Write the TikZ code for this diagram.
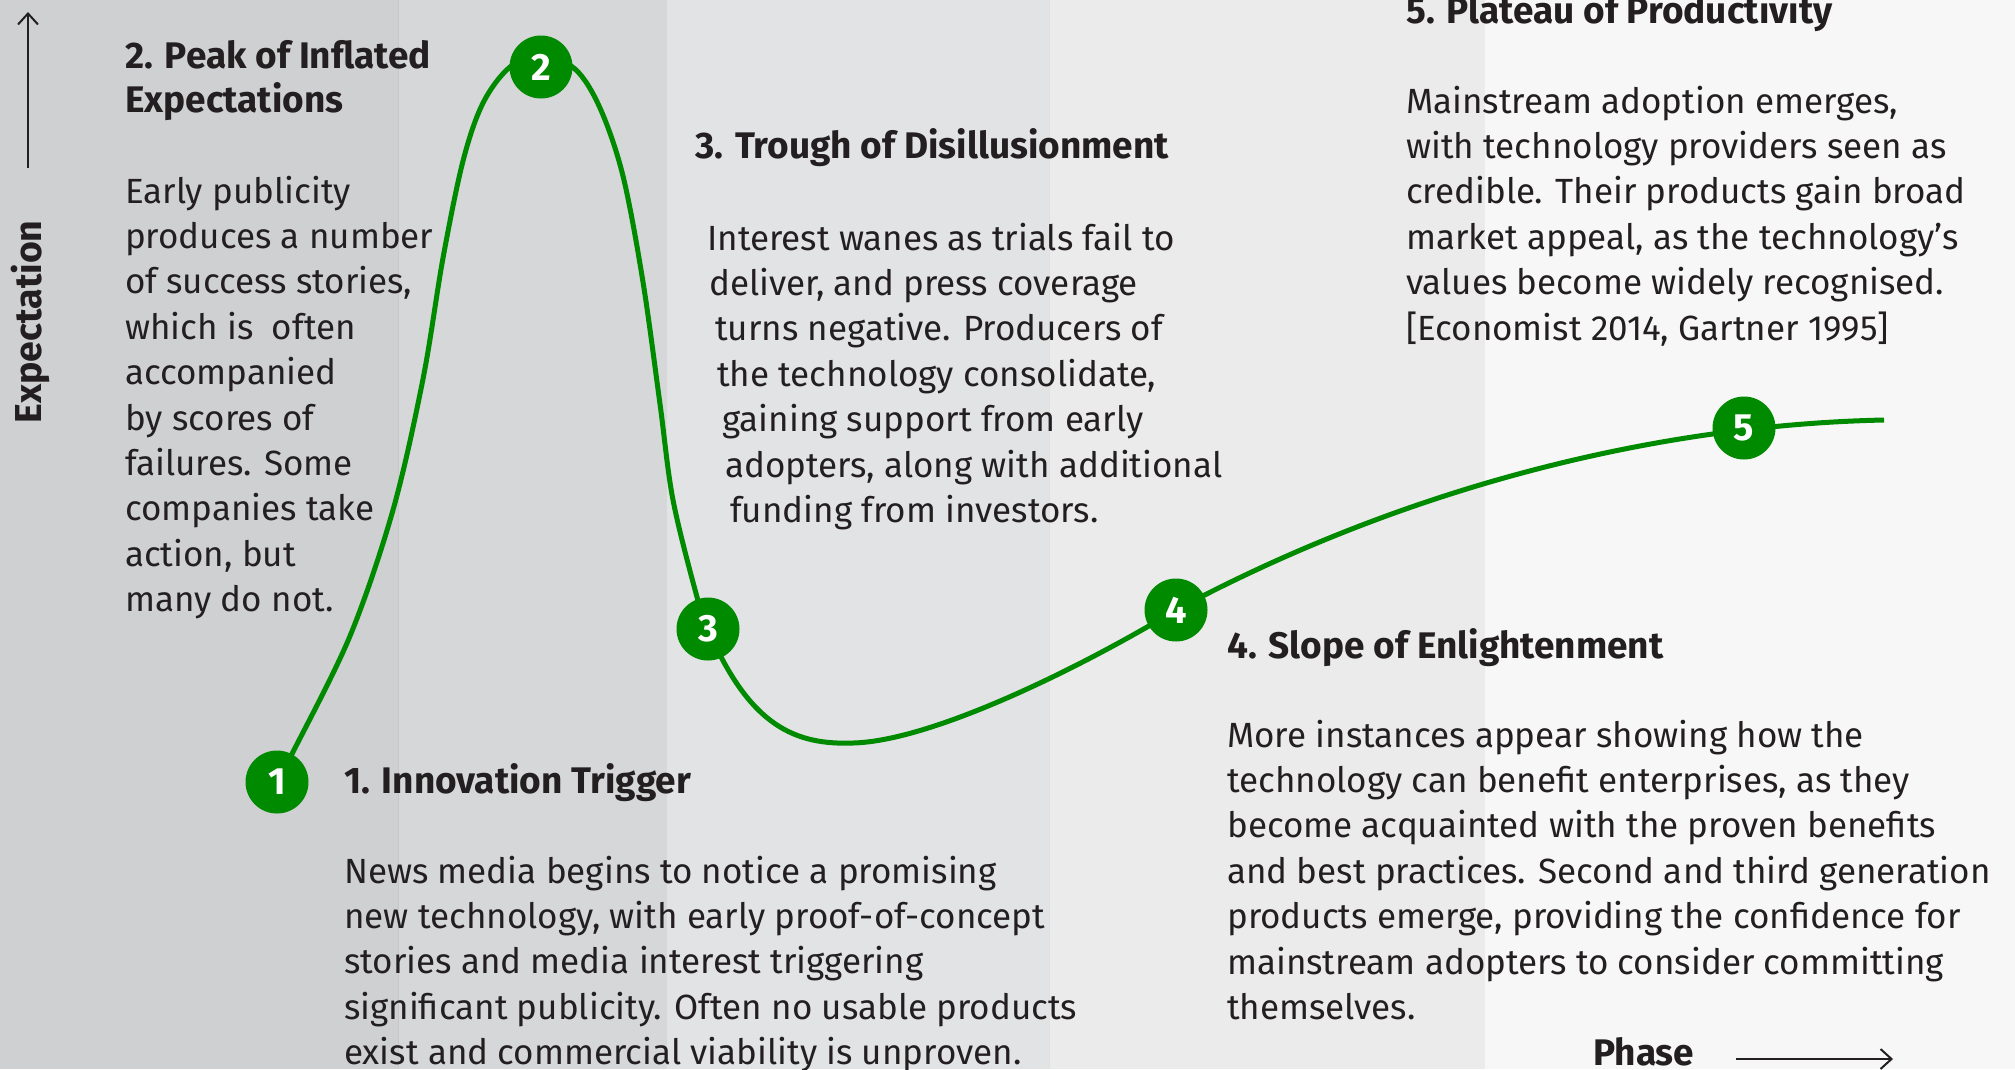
\documentclass[tikz,border=0pt]{standalone}
\usepackage{fontspec}
\setmainfont{Fira Sans}
\usetikzlibrary{arrows.meta}

\definecolor{ink}{HTML}{231F20}
\definecolor{hype}{RGB}{0,138,0}
\definecolor{bandA}{HTML}{CFD0D2}
\definecolor{bandB}{HTML}{D6D7D9}
\definecolor{bandC}{HTML}{E2E3E5}
\definecolor{bandD}{HTML}{EBEBEB}
\definecolor{bandE}{HTML}{F7F7F7}

\newcommand{\bodyfont}{\fontsize{35}{45.4}\selectfont}
\newcommand{\headfont}{\fontsize{37}{44}\selectfont\bfseries}
\newcommand{\rows}[1]{\begin{tabular}[t]{@{}l@{}}#1\end{tabular}}

\tikzset{
  txt/.style={anchor=base west, inner sep=0pt, text=ink, font=\bodyfont},
  head/.style={anchor=base west, inner sep=0pt, text=ink, font=\headfont},
  dot/.style={circle, fill=hype, minimum size=63pt, inner sep=0pt,
              text=white, font=\fontsize{38}{40}\selectfont\bfseries},
  curve/.style={draw=hype, line width=5pt},
  axis/.style={draw=ink, line width=2pt, -{Straight Barb[length=11pt, width=20pt]}}
}

\begin{document}
\begin{tikzpicture}[x=1pt, y=-1pt]
\useasboundingbox (0,0) rectangle (2015,1069);

% phase bands
\fill[bandA] (0,0) rectangle (398,1069);
\fill[bandB] (398,0) rectangle (667,1069);
\fill[bandC] (667,0) rectangle (1049,1069);
\fill[bandD] (1049,0) rectangle (1485,1069);
\fill[bandE] (1485,0) rectangle (2015,1069);
\draw[color=black!22, line width=0.8pt] (398,0) -- (398,1069);
\draw[color=black!12, line width=0.8pt] (1049,0) -- (1049,1069);

% phase points
\coordinate (c1) at (277,782);
\coordinate (c2) at (541,67);
\coordinate (c3) at (708,629);
\coordinate (c4) at (1176,610);
\coordinate (c5) at (1744,428);
\coordinate (low) at (853,743);
\coordinate (tail) at (1884,420);

% hype curve: rise, peak and fall as a smooth plot, then trough and plateau
\draw[curve] plot[smooth, tension=0.55] coordinates {
  (c1) (293,752) (350,636) (393,510) (423,379) (443,258) (463,161)
  (483,103) (510,67) (541,56) (575,69) (600,108) (623,176) (643,282)
  (660,404) (673,500) (697,597) (c3)}
  .. controls (750,728) and (797,745) .. (low)
  .. controls (932,741) and (1080,668) .. (c4)
  .. controls (1400,490) and (1650,425) .. (tail);

\node[dot] (n1) at (c1) {1};
\node[dot] (n2) at (c2) {2};
\node[dot] (n3) at (c3) {3};
\node[dot] (n4) at (c4) {4};
\node[dot] (n5) at (c5) {5};

% axes
\coordinate (ys) at (28,168);
\coordinate (ye) at (28,12);
\draw[axis] (ys) -- (ye);
\node[rotate=90, anchor=base, inner sep=0pt, text=ink,
      font=\fontsize{37.5}{40}\selectfont\bfseries] (ylab) at (41,322) {Expectation};

\node[head] (phase) at (1593,1065) {Phase};
\coordinate (xs) at (1736,1059);
\coordinate (xe) at (1893,1059);
\draw[axis] (xs) -- (xe);

% phase descriptions
\node[head] (h2) at (125,68) {\rows{2. Peak of Inflated\\Expectations}};
\node[txt] (b2) at (125,203) {\rows{Early publicity\\produces a number\\of success stories,\\which is~ often\\accompanied\\by scores of\\failures. Some\\companies take\\action, but\\many do not.}};

\node[head] (h3) at (695,158) {3. Trough of Disillusionment};
\node[txt] (b3) at (707,250) {\rows{Interest wanes as trials fail to\\
  \hspace*{2pt}deliver, and press coverage\\
  \hspace*{8pt}turns negative. Producers of\\
  \hspace*{10pt}the technology consolidate,\\
  \hspace*{15pt}gaining support from early\\
  \hspace*{18pt}adopters, along with additional\\
  \hspace*{23pt}funding from investors.}};

\node[head] (h1) at (344,793) {1. Innovation Trigger};
\node[txt] (b1) at (344,883) {\rows{News media begins to notice a promising\\new technology, with early proof-of-concept\\stories and media interest triggering\\significant publicity. Often no usable products\\exist and commercial viability is unproven.}};

\node[head] (h4) at (1227,658) {4. Slope of Enlightenment};
\node[txt] (b4) at (1227,747) {\rows{More instances appear showing how the\\technology can benefit enterprises, as they\\become acquainted with the proven benefits\\and best practices. Second and third generation\\products emerge, providing the confidence for\\mainstream adopters to consider committing\\themselves.}};

\node[head] (h5) at (1406,23) {5. Plateau of Productivity};
\node[txt] (b5) at (1406,113) {\rows{Mainstream adoption emerges,\\with technology providers seen as\\credible. Their products gain broad\\market appeal, as the technology’s\\values become widely recognised.\\{[}Economist 2014, Gartner 1995{]}}};
\end{tikzpicture}
\end{document}
